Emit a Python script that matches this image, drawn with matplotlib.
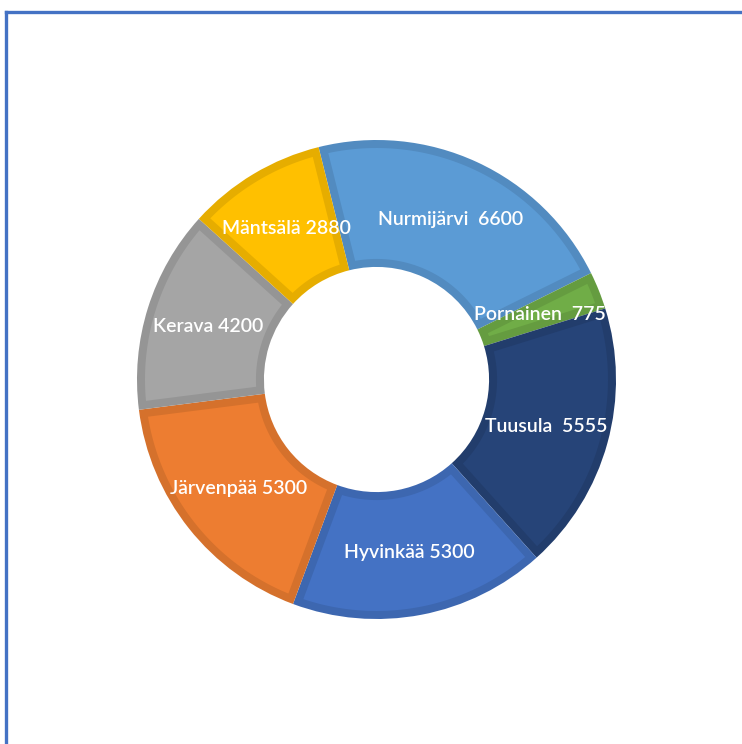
import numpy as np
import matplotlib.pyplot as plt
from matplotlib.lines import Line2D
from matplotlib.patches import Polygon
from matplotlib.colors import to_rgb

# slices in clockwise order, first one starts a bit left of 12 o'clock
municipalities = ['Nurmijärvi', 'Pornainen', 'Tuusula', 'Hyvinkää', 'Järvenpää', 'Kerava', 'Mäntsälä']
values = [6600, 775, 5555, 5300, 5300, 4200, 2880]
label_texts = ['Nurmijärvi  6600', 'Pornainen  775', 'Tuusula  5555', 'Hyvinkää 5300',
               'Järvenpää 5300', 'Kerava 4200', 'Mäntsälä 2880']
colors = ['#5B9BD5', '#70AD47', '#264478', '#4472C4', '#ED7D31', '#A5A5A5', '#FFC000']

W, H = 742, 744
fig = plt.figure(figsize=(W / 100, H / 100), dpi=100)
fig.patch.set_facecolor('white')

# donut box in pixels: centre and outer radius
cx, cy, r = 376.5, 379.5, 239.5
ax = fig.add_axes([(cx - r) / W, 1 - (cy + r) / H, 2 * r / W, 2 * r / H])

ring = 0.53
r_in = 1 - ring
start = 104
border = 8 / r   # darker rim inside every slice, ~8 px

# dark layer = the full slices
darks = [tuple(v * 0.9 for v in to_rgb(c)) for c in colors]
wedges, _ = ax.pie(values, colors=darks, startangle=start, counterclock=False,
                   radius=1, wedgeprops=dict(width=ring, linewidth=0))
ax.set_xlim(-1, 1)
ax.set_ylim(-1, 1)
ax.set_aspect('equal')
ax.axis('off')

# light layer = each slice shrunk by the border width
total = sum(values)
ro, ri = 1 - border, r_in + border
a = start
for val, c in zip(values, colors):
    span = 360 * val / total
    t_hi, t_lo = np.deg2rad(a), np.deg2rad(a - span)
    a -= span
    do, di = np.arcsin(border / ro), np.arcsin(border / ri)
    if t_hi - t_lo <= 2 * di:
        continue
    outer = np.linspace(t_hi - do, t_lo + do, 80)
    inner = np.linspace(t_lo + di, t_hi - di, 40)
    pts = np.vstack([np.c_[ro * np.cos(outer), ro * np.sin(outer)],
                     np.c_[ri * np.cos(inner), ri * np.sin(inner)]])
    ax.add_patch(Polygon(pts, closed=True, facecolor=c, edgecolor='none'))

mid_r = 1 - ring / 2
a = start
for val, txt in zip(values, label_texts):
    span = 360 * val / total
    mid = np.deg2rad(a - span / 2)
    a -= span
    ax.text(mid_r * np.cos(mid), mid_r * np.sin(mid), txt, ha='center', va='center',
            color='white', fontsize=14, family=['Lato', 'DejaVu Sans'],
            fontweight='semibold')

# chart frame: only top and left edges are visible
fig.add_artist(Line2D([6 / W, 1], [1 - 12 / H, 1 - 12 / H], color='#4472C4', lw=2.4,
                      transform=fig.transFigure))
fig.add_artist(Line2D([6 / W, 6 / W], [0, 1 - 12 / H], color='#4472C4', lw=2.4,
                      transform=fig.transFigure))

fig.savefig('out.png', dpi=100)
